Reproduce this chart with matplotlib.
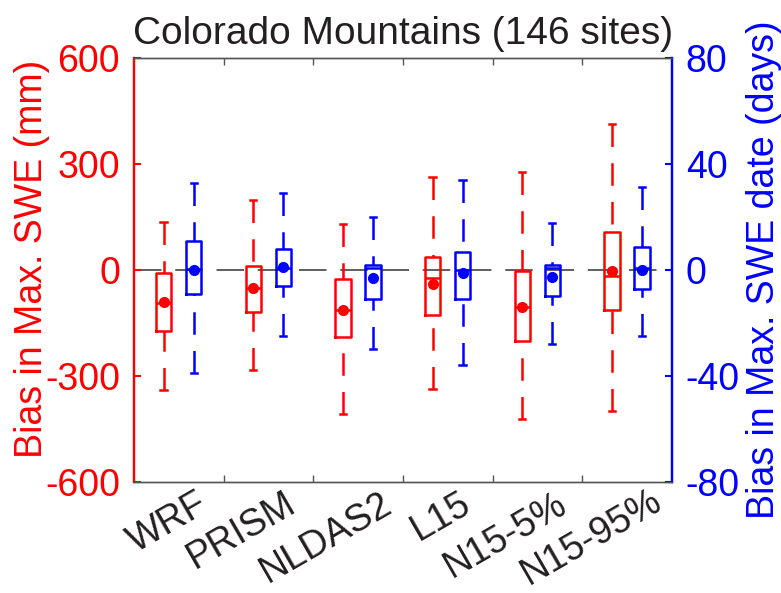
import matplotlib
matplotlib.use("Agg")
import matplotlib.pyplot as plt
from matplotlib.ticker import FixedLocator
import matplotlib.transforms as mtransforms

plt.rcParams['font.family'] = ['Liberation Sans', 'DejaVu Sans']

categories = ['WRF', 'PRISM', 'NLDAS2', 'L15', 'N15-5%', 'N15-95%']

# Bias in max SWE (mm) - left axis
swe_whislo = [-340, -283, -408, -338, -422, -398]
swe_q1 = [-173, -118, -189, -127, -201, -113]
swe_med = [-94, -52, -113, -22, -104, -17]
swe_q3 = [-9, 12, -25, 38, -3, 108]
swe_whishi = [137, 198, 129, 264, 278, 412]
swe_mean = [-90, -52, -113, -41, -104, -3]

# Bias in max SWE date (days) - right axis
date_whislo = [-39, -25, -30, -36, -28, -25]
date_q1 = [-9.2, -6, -10.9, -10.9, -10, -7.2]
date_med = [0.3, 0.9, 0.6, 0, 0.6, 0.9]
date_q3 = [11.1, 7.9, 1.9, 6.9, 1.9, 8.8]
date_whishi = [32.9, 28.9, 20.1, 34, 17.9, 31.2]
date_mean = [0, 1, -3.1, -1.3, -2.5, 0]

left_ticks = [-600, -300, 0, 300, 600]
right_ticks = [-80, -40, 0, 40, 80]

# label placement style (pixel offsets of each rotated label's baseline end)
label_dx_px = [31, 29, 36, 25, 32, 37]
label_dy_px = [-28, -28, -28, -28, -28, -25]

RED = '#ff0000'
BLUE = '#0000ff'
DARK = '#231f20'
FS = 27

fig = plt.figure(figsize=(7.81, 5.93), dpi=100)
ax = fig.add_axes([0.1716, 0.1872, 0.6888, 0.715])
ax2 = ax.twinx()

n = len(categories)
pos = list(range(1, n + 1))
off_red, off_blue = -0.17, 0.165
bw, cw = 0.17, 0.07
LW = 1.8


def draw(axis, color, offs, lo, q1, med, q3, hi, mean):
    stats = []
    for i in range(n):
        stats.append(dict(whislo=lo[i], q1=q1[i], med=med[i], q3=q3[i],
                          whishi=hi[i], fliers=[], label=''))
    p = [x + offs for x in pos]
    res = axis.bxp(stats, positions=p, widths=bw, capwidths=cw,
                   showfliers=False, manage_ticks=False,
                   boxprops=dict(color=color, lw=LW),
                   medianprops=dict(color=color, lw=LW),
                   whiskerprops=dict(color=color, lw=LW, linestyle=(0, (9, 6.5))),
                   capprops=dict(color=color, lw=LW))
    for w in res['whiskers']:
        xd, yd = w.get_data()
        w.set_data(list(xd)[::-1], list(yd)[::-1])
    axis.plot(p, mean, 'o', color=color, ms=7, zorder=5)


ax.axhline(0, color='#333333', lw=1.1, linestyle=(0, (18, 9)), zorder=1)
draw(ax, RED, off_red, swe_whislo, swe_q1, swe_med, swe_q3, swe_whishi, swe_mean)
draw(ax2, BLUE, off_blue, date_whislo, date_q1, date_med, date_q3, date_whishi, date_mean)

ax.set_xlim(0.5, n + 0.5)
ax.set_ylim(-600, 600)
ax2.set_ylim(-80, 80)
ax.set_yticks(left_ticks)
ax.set_yticklabels([str(t) for t in left_ticks])
ax2.set_yticks(right_ticks)
ax2.set_yticklabels([str(t) for t in right_ticks])

ax.set_xticks([])
ax.xaxis.set_minor_locator(FixedLocator([x + 0.5 for x in pos[:-1]]))
ax.tick_params(axis='x', which='minor', direction='in', length=5, width=1,
               color='#555555', top=True, bottom=True, labelbottom=False)
ax.tick_params(axis='y', direction='in', length=5, width=1.5, colors=RED,
               labelsize=FS, pad=10)
ax2.tick_params(axis='y', direction='in', length=5, width=1.5, colors=BLUE,
                labelsize=FS, pad=10)

base = mtransforms.blended_transform_factory(ax.transData, ax.transAxes)
for i, lab in enumerate(categories):
    tr = base + mtransforms.ScaledTranslation(label_dx_px[i] / 100.0,
                                              label_dy_px[i] / 100.0,
                                              fig.dpi_scale_trans)
    ax.text(pos[i], 0, lab, transform=tr, rotation=30, ha='right',
            va='baseline', rotation_mode='anchor', color=DARK, fontsize=FS,
            clip_on=False)

for a in (ax, ax2):
    a.spines['top'].set_color('#555555')
    a.spines['bottom'].set_color('#555555')
    a.spines['top'].set_linewidth(1.0)
    a.spines['bottom'].set_linewidth(1.0)
    a.spines['left'].set_color(RED)
    a.spines['left'].set_linewidth(1.6)
    a.spines['right'].set_color(BLUE)
    a.spines['right'].set_linewidth(1.6)

ax.set_ylabel('Bias in Max. SWE (mm)', color=RED, fontsize=FS)
ax.yaxis.set_label_coords(-0.156, 0.526)
ax2.set_ylabel('Bias in Max. SWE date (days)', color=BLUE, fontsize=FS, labelpad=4)
ax.set_title('Colorado Mountains (146 sites)', color=DARK, fontsize=28, pad=10)

fig.savefig('out.png', dpi=100)
